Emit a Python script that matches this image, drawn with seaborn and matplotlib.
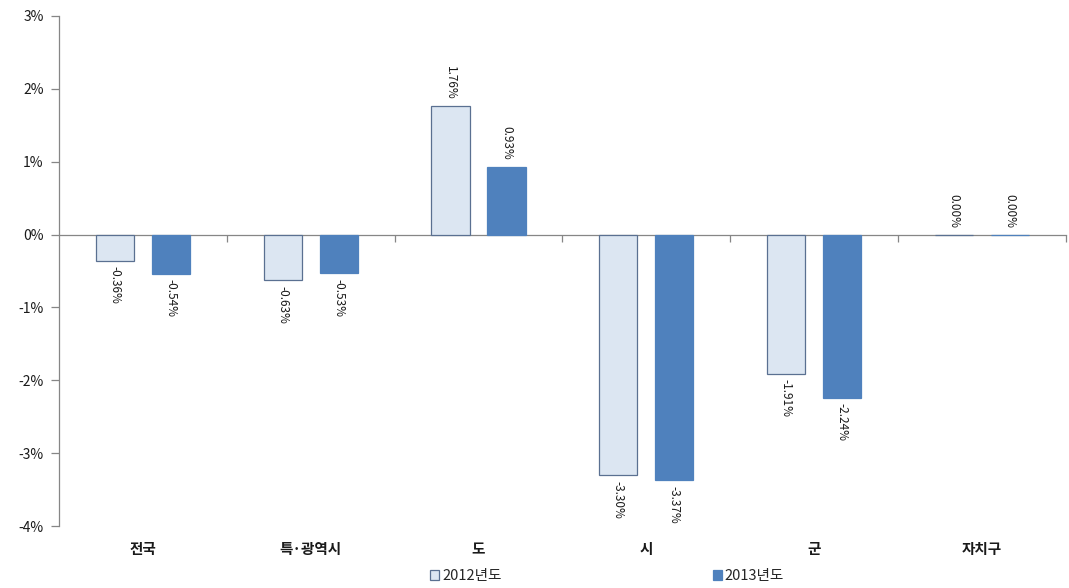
import matplotlib
matplotlib.use("Agg")
import matplotlib.pyplot as plt
import matplotlib.transforms as mtransforms
from matplotlib.patches import Patch
from matplotlib.ticker import FixedLocator, PercentFormatter
import seaborn as sns
import pandas as pd

categories = ["전국", "특·광역시", "도", "시", "군", "자치구"]
series_names = ["2012년도", "2013년도"]
values_2012 = [-0.36, -0.63, 1.76, -3.30, -1.91, 0.00]
values_2013 = [-0.54, -0.53, 0.93, -3.37, -2.24, 0.00]
y_ticks = [-4, -3, -2, -1, 0, 1, 2, 3]

df = pd.DataFrame({
    "category": categories * 2,
    "series": [series_names[0]] * len(categories) + [series_names[1]] * len(categories),
    "value": values_2012 + values_2013,
})

sns.set_theme(style="white")
plt.rcParams["font.family"] = ["Noto Sans CJK KR", "DejaVu Sans"]
plt.rcParams["axes.unicode_minus"] = False

fill_colors = {"2012년도": "#dce6f2", "2013년도": "#4f81bd"}
edge_colors = {"2012년도": "#5a7091", "2013년도": "#4f81bd"}
axis_gray = "#868686"

fig = plt.figure(figsize=(10.69, 5.88), dpi=100)
ax = fig.add_axes([0.0552, 0.1054, 0.9418, 0.8674])

sns.barplot(data=df, x="category", y="value", hue="series", order=categories,
            hue_order=series_names, palette=fill_colors, width=0.667, gap=0.32,
            ax=ax, legend=False, saturation=1)

for container, name in zip(ax.containers, series_names):
    for bar in container:
        bar.set_edgecolor(edge_colors[name])
        bar.set_linewidth(0.9)
    vals = values_2012 if name == series_names[0] else values_2013
    for bar, v in zip(container, vals):
        cx = bar.get_x() + bar.get_width() / 2
        if v >= 0:
            ax.annotate(f"{v:.2f}%", (cx, v), xytext=(0, 5), textcoords="offset points",
                        rotation=-90, ha="center", va="bottom", fontsize=8.5, color="#1a1a1a")
        else:
            ax.annotate(f"{v:.2f}%", (cx, v), xytext=(0, -4), textcoords="offset points",
                        rotation=-90, ha="center", va="top", fontsize=8.5, color="#1a1a1a")

ax.set_ylim(y_ticks[0], y_ticks[-1])
ax.set_xlim(-0.5, len(categories) - 0.5)
ax.set_yticks(y_ticks)
ax.yaxis.set_major_formatter(PercentFormatter(decimals=0))
ax.tick_params(axis="y", direction="out", length=6, width=0.9, color=axis_gray,
               labelsize=10, labelcolor="#1a1a1a", pad=5, left=True)
ax.set_xlabel("")
ax.set_ylabel("")

# x axis drawn at zero
for s in ["top", "right"]:
    ax.spines[s].set_visible(False)
ax.spines["left"].set_color(axis_gray)
ax.spines["left"].set_linewidth(0.9)
ax.spines["bottom"].set_position(("data", 0))
ax.spines["bottom"].set_color(axis_gray)
ax.spines["bottom"].set_linewidth(0.9)
ax.spines["bottom"].set_zorder(0.5)
ax.set_xticks(range(len(categories)))
ax.set_xticklabels([])
ax.tick_params(axis="x", which="major", length=0, bottom=True)
ax.xaxis.set_minor_locator(FixedLocator([i + 0.5 for i in range(len(categories))]))
ax.tick_params(axis="x", which="minor", direction="out", length=5, width=0.9,
               color=axis_gray, bottom=True)

trans = mtransforms.blended_transform_factory(ax.transData, ax.transAxes)
for i, c in enumerate(categories):
    ax.text(i, -0.045, c, transform=trans, ha="center", va="center",
            fontsize=10.5, fontweight="bold", color="#1a1a1a")

handles = [Patch(facecolor=fill_colors[n], edgecolor=edge_colors[n], linewidth=0.9)
           for n in series_names]
fig.legend(handles, series_names, loc="center", bbox_to_anchor=(0.568, 0.02),
           ncol=2, frameon=False, fontsize=10.5, handlelength=0.6, handleheight=0.6,
           handletextpad=0.2, columnspacing=14.5)

fig.savefig("out.png", dpi=100)
